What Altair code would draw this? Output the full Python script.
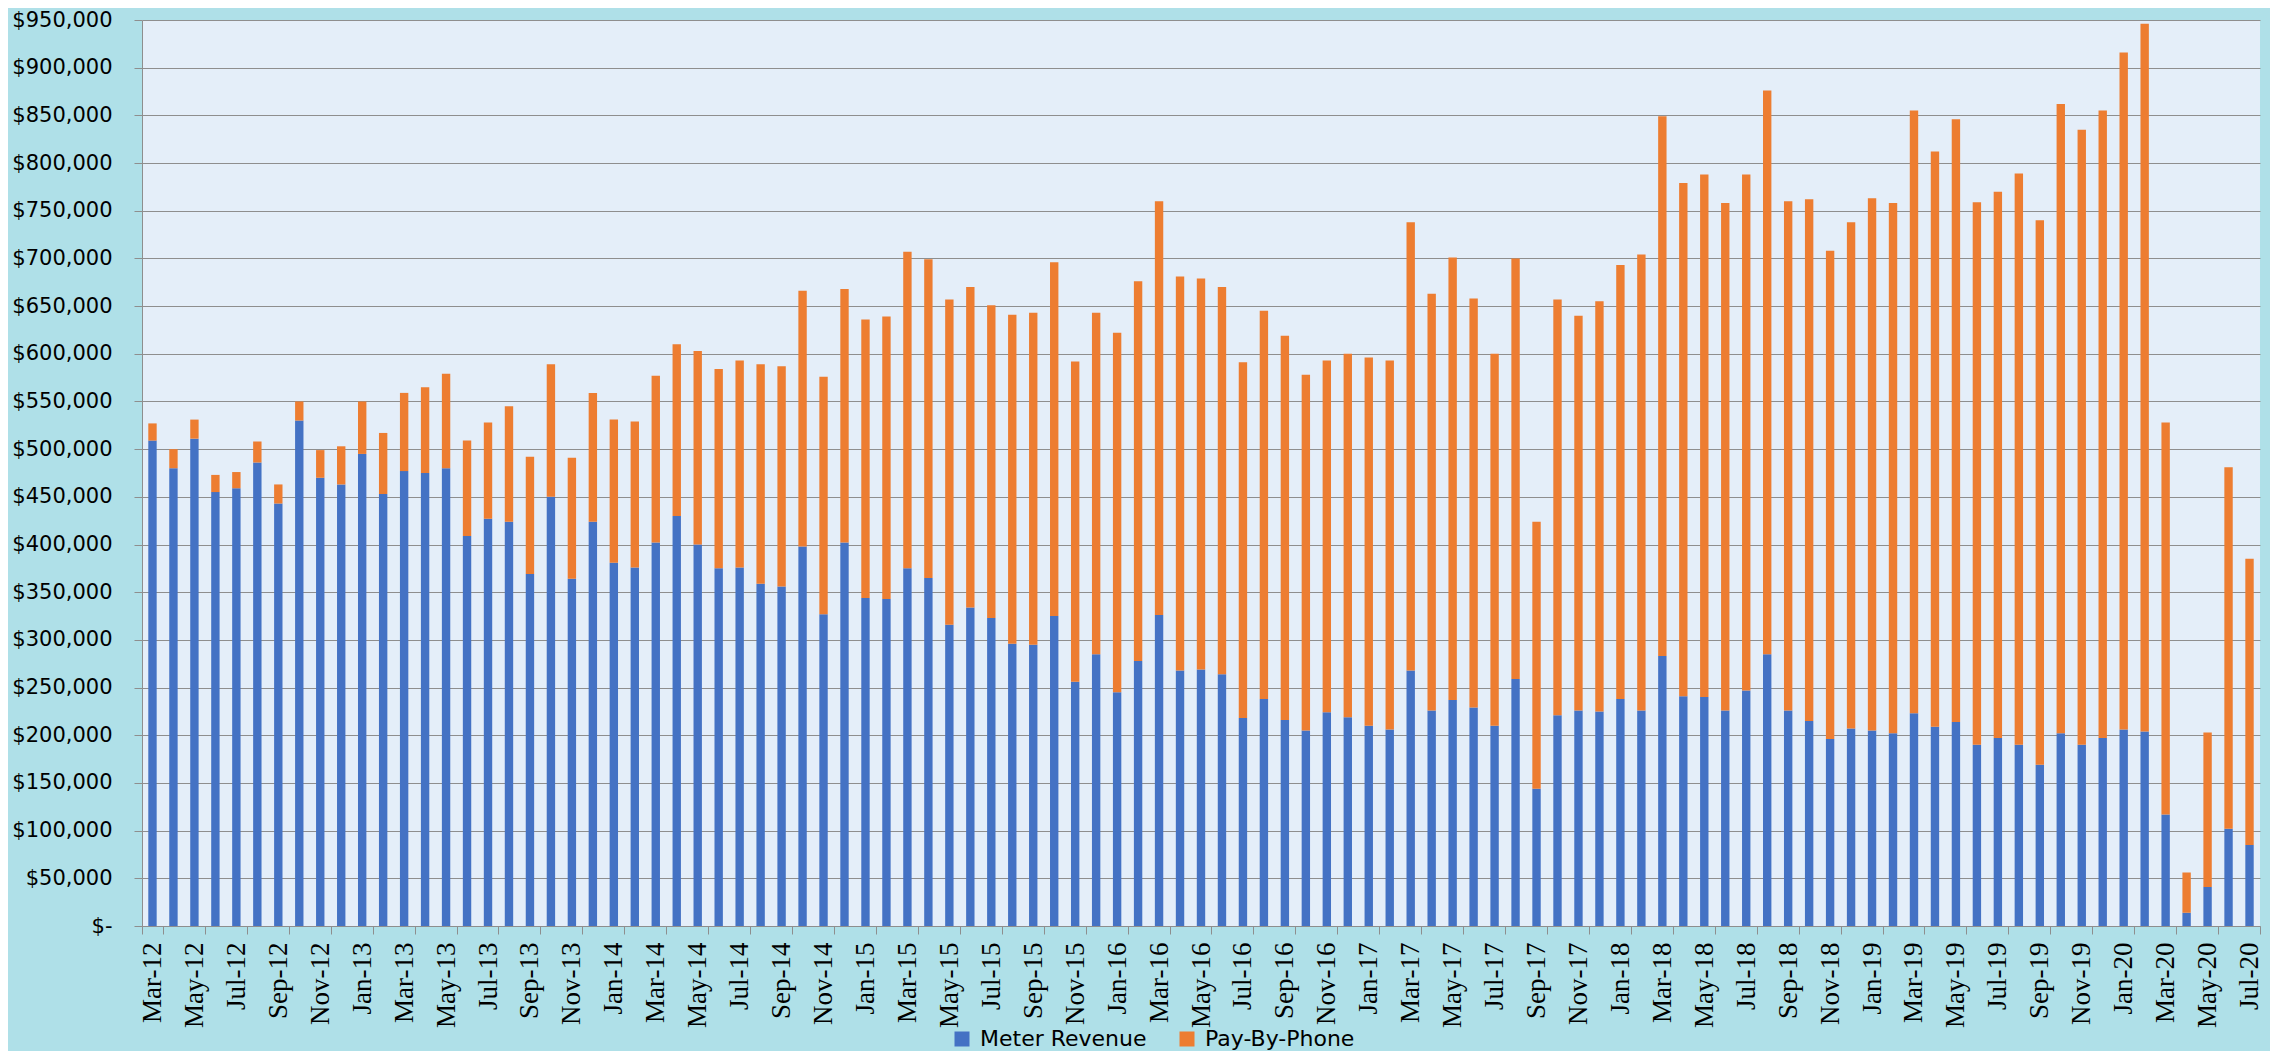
import altair as alt
import pandas as pd

# Month categories (Mar-12 .. Jul-20)
months = [d.strftime("%b-%y") for d in pd.date_range("2012-03-01", "2020-07-01", freq="MS")]

# Values in thousands of dollars
meter_k = [509, 480, 511, 455, 459, 486, 443, 530, 470, 463, 495, 453, 477, 475, 480, 409,
           427, 424, 369, 450, 364, 424, 381, 376, 402, 430, 400, 375, 376, 359, 356, 398,
           327, 402, 344, 343, 375, 365, 316, 334, 323, 296, 295, 325, 256, 285, 245, 278,
           326, 268, 269, 264, 218, 238, 216, 205, 224, 219, 210, 206, 268, 226, 237, 229,
           210, 259, 144, 221, 226, 225, 238, 226, 283, 241, 240, 226, 247, 285, 226, 215,
           196, 207, 205, 202, 223, 209, 214, 190, 197, 190, 169, 202, 190, 197, 206, 204,
           117, 14, 41, 102, 85]
phone_k = [18, 20, 20, 18, 17, 22, 20, 20, 29, 40, 55, 64, 82, 90, 99, 100,
           101, 121, 123, 139, 127, 135, 150, 153, 175, 180, 203, 209, 217, 230, 231, 268,
           249, 266, 292, 296, 332, 334, 341, 336, 328, 345, 348, 371, 336, 358, 377, 398,
           434, 413, 410, 406, 373, 407, 403, 373, 369, 381, 386, 387, 470, 437, 464, 429,
           390, 441, 280, 436, 414, 430, 455, 478, 566, 538, 548, 532, 541, 591, 534, 547,
           512, 531, 558, 556, 632, 603, 632, 569, 573, 599, 571, 660, 645, 658, 710, 742,
           411, 42, 162, 379, 300]

series = ["Meter Revenue", "Pay-By-Phone"]
colors = ["#4472C4", "#ED7D31"]
y_ticks = [0, 50000, 100000, 150000, 200000, 250000, 300000, 350000, 400000, 450000,
           500000, 550000, 600000, 650000, 700000, 750000, 800000, 850000, 900000, 950000]
x_label_values = months[::2]

rows = []
for m, a, b in zip(months, meter_k, phone_k):
    rows.append({"month": m, "series": series[0], "value": a * 1000, "ord": 0})
    rows.append({"month": m, "series": series[1], "value": b * 1000, "ord": 1})
df = pd.DataFrame(rows)

GRID = "#8e8e8e"

chart = alt.Chart(df).mark_bar(width=alt.RelativeBandSize(0.4)).encode(
    x=alt.X(
        "month:N",
        sort=months,
        scale=alt.Scale(paddingInner=0, paddingOuter=0),
        axis=alt.Axis(
            values=x_label_values,
            labelAngle=270,
            tickBand="extent",
            title=None,
            grid=False,
            domainColor=GRID,
            tickColor=GRID,
            tickSize=8,
            labelPadding=8,
            labelFont="Liberation Sans Narrow",
            labelFontSize=27,
            labelColor="#000000",
        ),
    ),
    y=alt.Y(
        "value:Q",
        stack="zero",
        scale=alt.Scale(domain=[0, 950000], nice=False),
        axis=alt.Axis(
            values=y_ticks,
            labelExpr="datum.value == 0 ? '$-' : '$' + format(datum.value, ',')",
            title=None,
            grid=True,
            gridColor=GRID,
            gridWidth=1,
            domainColor=GRID,
            tickColor=GRID,
            tickSize=8,
            labelPadding=22,
            labelFont="DejaVu Sans",
            labelFontSize=21,
            labelColor="#000000",
        ),
    ),
    color=alt.Color(
        "series:N",
        scale=alt.Scale(domain=series, range=colors),
        legend=alt.Legend(
            title=None,
            orient="none",
            direction="horizontal",
            legendX=809,
            legendY=1008,
            symbolType="square",
            symbolSize=225,
            symbolStrokeWidth=0,
            labelFont="DejaVu Sans",
            labelFontSize=22,
            labelLimit=400,
            labelColor="#000000",
            labelOffset=7,
            columnPadding=29,
        ),
    ),
    order=alt.Order("ord:Q", sort="ascending"),
).properties(
    width=2118,
    height=906,
    autosize=alt.AutoSizeParams(type="none"),
    padding={"left": 134, "top": 12, "right": 10, "bottom": 125},
    background="#afe0e8",
).configure_view(fill="#e4eef9", stroke=None)

chart.save("out.html", embed_options={"renderer": "svg", "actions": False})
